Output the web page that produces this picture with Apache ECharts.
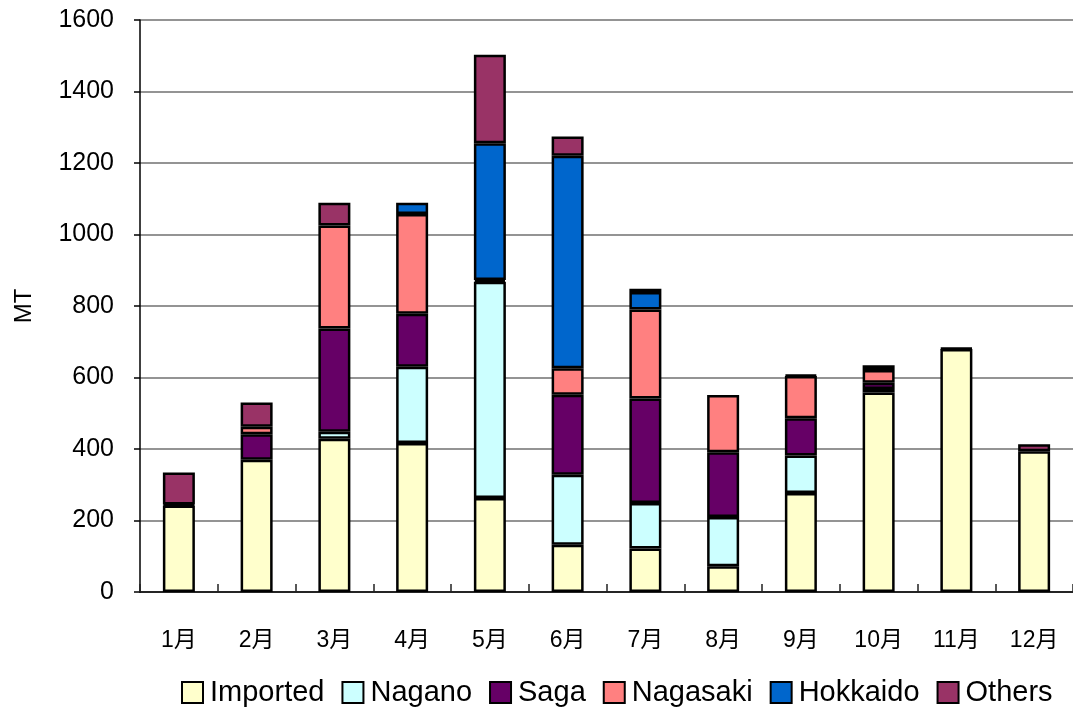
<!DOCTYPE html>
<html>
<head>
<meta charset="utf-8">
<style>
  html, body { margin: 0; padding: 0; background: #fff; }
  #chart { width: 1073px; height: 713px; }
</style>
<script src="https://cdn.jsdelivr.net/npm/echarts@6/dist/echarts.min.js"></script>
</head>
<body>
<div id="chart"></div>
<script>
// Monthly supply by origin (MT)
const months = ['1月', '2月', '3月', '4月', '5月', '6月', '7月', '8月', '9月', '10月', '11月', '12月'];
const imported  = [242, 370, 429, 417, 263, 132, 122,  72, 277, 558, 680, 394];
const nagano    = [  0,   0,  19, 213, 605, 196, 127, 138, 105,  10,   0,   0];
const saga      = [  3,  71, 289, 148,   5, 224, 292, 181, 104,  17,   0,   0];
const nagasaki  = [  0,  21, 288, 279,   0,  74, 249, 160, 118,  36,   0,   0];
const hokkaido  = [  0,   0,   0,  32, 382, 594,  49,   0,   0,   0,   0,   0];
const others    = [ 89,  68,  64,   0, 248,  54,   9,   0,   3,  13,   2,  19];
const yTicks = { min: 0, max: 1600, interval: 200 };

const FONT = '"Liberation Sans", Arial, "Noto Sans CJK JP", sans-serif';

const seriesDefs = [
  { name: 'Imported',  data: imported,  color: '#FFFFCC' },
  { name: 'Nagano',    data: nagano,    color: '#CCFFFF' },
  { name: 'Saga',      data: saga,      color: '#660066' },
  { name: 'Nagasaki',  data: nagasaki,  color: '#FF8080' },
  { name: 'Hokkaido',  data: hokkaido,  color: '#0066CC' },
  { name: 'Others',    data: others,    color: '#993366' }
];

const chart = echarts.init(document.getElementById('chart'), null, { renderer: 'canvas' });

chart.setOption({
  animation: false,
  backgroundColor: '#ffffff',
  textStyle: { fontFamily: FONT, color: '#000' },
  grid: { left: 140, right: 0, top: 20, bottom: 121, containLabel: false },
  legend: {
    bottom: 1,
    left: 176,
    width: 897,
    orient: 'horizontal',
    itemWidth: 21,
    itemHeight: 21,
    itemGap: 17,
    icon: 'rect',
    textStyle: { fontFamily: FONT, fontSize: 29, color: '#000', padding: [0, 0, 0, 2] },
    itemStyle: { borderColor: '#000', borderWidth: 2 },
    data: seriesDefs.map(s => s.name)
  },
  xAxis: {
    type: 'category',
    data: months,
    boundaryGap: true,
    axisLine: { show: true, lineStyle: { color: '#000', width: 1.5 } },
    axisTick: { show: true, inside: true, length: 8, alignWithLabel: false, lineStyle: { color: '#222', width: 1.5 } },
    axisLabel: { color: '#000', fontSize: 23, fontFamily: FONT, margin: 37 },
    splitLine: { show: false }
  },
  yAxis: {
    type: 'value',
    min: yTicks.min,
    max: yTicks.max,
    interval: yTicks.interval,
    name: 'MT',
    nameLocation: 'middle',
    nameGap: 104,
    nameRotate: 90,
    nameTextStyle: { color: '#000', fontSize: 24, fontFamily: FONT },
    axisLine: { show: true, lineStyle: { color: '#000', width: 1.5 } },
    axisTick: { show: true, inside: false, length: 6, lineStyle: { color: '#000', width: 1.5 } },
    axisLabel: { color: '#000', fontSize: 25, fontFamily: FONT, margin: 26, formatter: v => String(v) },
    splitLine: { show: true, lineStyle: { color: '#707070', width: 1.5 } }
  },
  series: seriesDefs.map(s => ({
    name: s.name,
    type: 'bar',
    stack: 'total',
    barWidth: 32,
    data: s.data.map(v => (v === 0 ? '-' : v)),
    itemStyle: { color: s.color, borderColor: '#000', borderWidth: 2.5 },
    emphasis: { disabled: true }
  }))
});
</script>
</body>
</html>
